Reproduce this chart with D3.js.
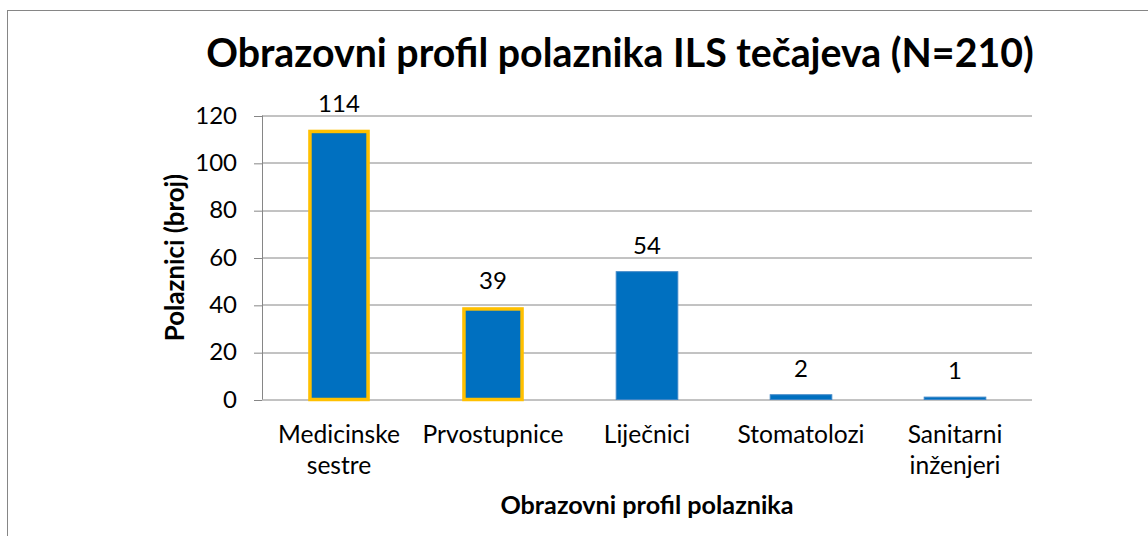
<!DOCTYPE html>
<html><head><meta charset="utf-8">
<script src="https://cdn.jsdelivr.net/npm/d3@7"></script>
<style>
html,body{margin:0;padding:0;background:#fff;}
svg{display:block;}
text{font-family:Lato,"Open Sans",sans-serif;fill:#000;}
</style></head>
<body>
<svg id="chart" width="1148" height="536"></svg>
<script>
const title = "Obrazovni profil polaznika ILS tečajeva (N=210)";
const xTitle = "Obrazovni profil polaznika";
const yTitle = "Polaznici (broj)";
const categories = ["Medicinske sestre", "Prvostupnice", "Liječnici", "Stomatolozi", "Sanitarni inženjeri"];
const values = [114, 39, 54, 2, 1];
const highlighted = [true, true, false, false, false];
const yTicks = [0, 20, 40, 60, 80, 100, 120];

const svg = d3.select("#chart");
const W = 1148, H = 536;
const m = {left: 262, right: 116, top: 115.5, bottom: 136.5};
const iw = W - m.left - m.right, ih = H - m.top - m.bottom;

// frame
svg.append("rect").attr("x", 7.5).attr("y", 10.5).attr("width", 1160).attr("height", 560)
  .attr("fill", "#fff").attr("stroke", "#868686").attr("stroke-width", 1);

svg.append("text").attr("x", 620).attr("y", 67).attr("text-anchor", "middle")
  .style("font-size", "39.3px").style("font-weight", "bold").text(title);

const g = svg.append("g").attr("transform", `translate(${m.left},${m.top})`);
const x = d3.scaleBand().domain(categories).range([0, iw]).paddingInner(0.6).paddingOuter(0.3);
const y = d3.scaleLinear().domain([0, 120]).range([ih, 0]);

// gridlines
g.append("g").selectAll("line").data(yTicks).join("line")
  .attr("x1", 0).attr("x2", iw).attr("y1", d => Math.round(y(d)) + 0.5).attr("y2", d => Math.round(y(d)) + 0.5)
  .attr("stroke", "#868686").attr("stroke-width", 1);

// y axis
const ya = g.append("g").call(d3.axisLeft(y).tickValues(yTicks).tickSize(8).tickPadding(17));
ya.select(".domain").attr("stroke", "#868686").attr("d", `M0.5,${ih}V0`);
ya.selectAll(".tick line").attr("stroke", "#868686").attr("transform", "translate(0,0.5)");
ya.selectAll(".tick text").style("font-size", "24px").style("font-family", "Lato").attr("fill", "#000");

// x axis labels
const xa = g.append("g").attr("transform", `translate(0,${ih})`).call(d3.axisBottom(x).tickSize(0).tickPadding(0));
xa.select(".domain").remove();
xa.selectAll(".tick text").each(function(d) {
  const t = d3.select(this);
  t.text(null).attr("y", 0).attr("dy", null).style("font-size", "24.6px").style("font-family", "Lato").attr("fill", "#000");
  d.split(" ").forEach((w, i) => {
    t.append("tspan").attr("x", 0).attr("y", 43 + i * 31).text(w);
  });
});

// bars
const data = categories.map((c, i) => ({c, v: values[i], h: highlighted[i]}));
g.append("g").selectAll("rect").data(data).join("rect")
  .attr("x", d => d.h ? x(d.c) + 1.75 : x(d.c))
  .attr("y", d => d.h ? y(d.v) + 1.75 : y(d.v))
  .attr("width", d => d.h ? x.bandwidth() - 3.5 : x.bandwidth())
  .attr("height", d => d.h ? y(0) - y(d.v) - 1.75 : y(0) - y(d.v))
  .attr("fill", "#0070C0")
  .attr("stroke", d => d.h ? "#FFC000" : "#3d85c6")
  .attr("stroke-width", d => d.h ? 3.5 : 1);

// value labels
g.append("g").selectAll("text").data(data).join("text")
  .attr("x", d => x(d.c) + x.bandwidth() / 2)
  .attr("y", d => y(d.v) - 18)
  .attr("text-anchor", "middle").style("font-size", "24px").text(d => d.v);

// axis titles
svg.append("text").attr("x", 647).attr("y", 514).attr("text-anchor", "middle")
  .style("font-size", "25.2px").style("font-weight", "bold").text(xTitle);
svg.append("text").attr("transform", `translate(184,${m.top + ih / 2}) rotate(-90)`)
  .attr("text-anchor", "middle").style("font-size", "25.8px").style("font-weight", "bold").text(yTitle);
</script>
</body></html>
